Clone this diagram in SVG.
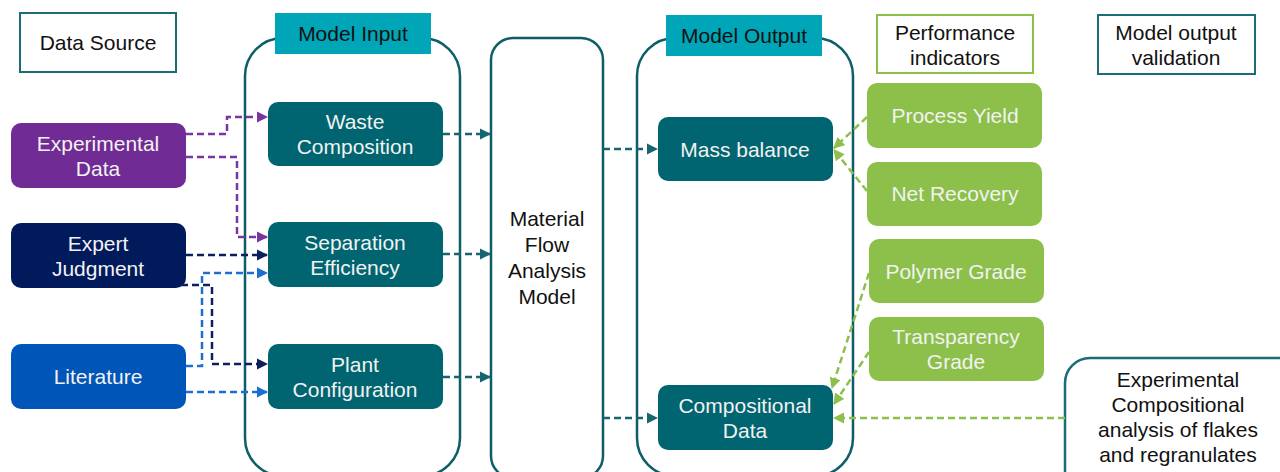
<svg xmlns="http://www.w3.org/2000/svg" width="1280" height="472" viewBox="0 0 1280 472">
<defs>
<style>
text{font-family:"Liberation Sans",Arial,sans-serif;font-size:21px;text-anchor:middle}
.w{fill:#f2f2f2}
.k{fill:#111}
.cont{fill:none;stroke:#0d5e68;stroke-width:2.5}
.node{fill:#006570}
.green{fill:#8cc04b}
.lbl{fill:#00a6b8}
.c{fill:none;stroke-width:2.5;stroke-dasharray:7 4}
.pu{stroke:#7a35a3}
.nv{stroke:#0c1f5e}
.bl{stroke:#1c6fd1}
.tl{stroke:#17656f}
.gr{stroke:#8cc04b}
</style>
<marker id="aPu" viewBox="0 0 10 10" refX="9" refY="5" markerWidth="4.5" markerHeight="4.5" orient="auto" markerUnits="strokeWidth"><path d="M0,0L10,5L0,10z" fill="#7a35a3"/></marker>
<marker id="aNv" viewBox="0 0 10 10" refX="9" refY="5" markerWidth="4.5" markerHeight="4.5" orient="auto" markerUnits="strokeWidth"><path d="M0,0L10,5L0,10z" fill="#0c1f5e"/></marker>
<marker id="aBl" viewBox="0 0 10 10" refX="9" refY="5" markerWidth="4.5" markerHeight="4.5" orient="auto" markerUnits="strokeWidth"><path d="M0,0L10,5L0,10z" fill="#1c6fd1"/></marker>
<marker id="aTl" viewBox="0 0 10 10" refX="9" refY="5" markerWidth="4.5" markerHeight="4.5" orient="auto" markerUnits="strokeWidth"><path d="M0,0L10,5L0,10z" fill="#17656f"/></marker>
<marker id="aGr" viewBox="0 0 10 10" refX="9" refY="5" markerWidth="4.5" markerHeight="4.5" orient="auto" markerUnits="strokeWidth"><path d="M0,0L10,5L0,10z" fill="#8cc04b"/></marker>
</defs>
<rect width="1280" height="472" fill="#fff"/>

<g id="containers">
<rect id="model-input-frame" class="cont" x="245" y="38" width="215" height="438" rx="38"/>
<rect id="model-output-frame" class="cont" x="637" y="38" width="216" height="438" rx="38"/>
</g>

<g id="data-source">
<rect x="20" y="13" width="156" height="59" fill="#fff" stroke="#1a6c76" stroke-width="2"/>
<text class="k" x="98" y="50">Data Source</text>
</g>

<g id="model-input">
<rect class="lbl" x="275" y="13" width="156" height="41"/>
<text class="k" x="353" y="41">Model Input</text>
</g>

<g id="model-output">
<rect class="lbl" x="666" y="15" width="156" height="41"/>
<text class="k" x="744" y="43">Model Output</text>
</g>

<g id="performance-indicators">
<rect x="877" y="15" width="156" height="58" fill="#fff" stroke="#8cc04b" stroke-width="2"/>
<text class="k" x="955" y="40">Performance</text>
<text class="k" x="955" y="65">indicators</text>
</g>

<g id="model-output-validation">
<rect x="1098" y="15" width="157" height="59" fill="#fff" stroke="#1a6c76" stroke-width="2"/>
<text class="k" x="1176" y="40">Model output</text>
<text class="k" x="1176" y="65">validation</text>
</g>

<g id="experimental-data">
<rect x="11" y="123" width="175" height="65" rx="10" fill="#702c94"/>
<text class="w" x="98" y="151">Experimental</text>
<text class="w" x="98" y="176">Data</text>
</g>

<g id="expert-judgment">
<rect x="11" y="223" width="175" height="65" rx="10" fill="#001a5c"/>
<text class="w" x="98" y="251">Expert</text>
<text class="w" x="98" y="276">Judgment</text>
</g>

<g id="literature">
<rect x="11" y="344" width="175" height="65" rx="10" fill="#0055b8"/>
<text class="w" x="98" y="384">Literature</text>
</g>

<g id="waste-composition">
<rect class="node" x="268" y="102" width="175" height="64" rx="10"/>
<text class="w" x="355" y="129">Waste</text>
<text class="w" x="355" y="154">Composition</text>
</g>

<g id="separation-efficiency">
<rect class="node" x="268" y="222" width="175" height="65" rx="10"/>
<text class="w" x="355" y="250">Separation</text>
<text class="w" x="355" y="275">Efficiency</text>
</g>

<g id="plant-configuration">
<rect class="node" x="268" y="344" width="175" height="65" rx="10"/>
<text class="w" x="355" y="372">Plant</text>
<text class="w" x="355" y="397">Configuration</text>
</g>

<g id="mfa-model">
<rect class="cont" x="491" y="38" width="112" height="440" rx="22" fill="#fff"/>
<text class="k" x="547" y="226">Material</text>
<text class="k" x="547" y="252">Flow</text>
<text class="k" x="547" y="278">Analysis</text>
<text class="k" x="547" y="304">Model</text>
</g>

<g id="mass-balance">
<rect class="node" x="658" y="117" width="175" height="64" rx="10"/>
<text class="w" x="745" y="157">Mass balance</text>
</g>

<g id="compositional-data">
<rect class="node" x="658" y="385" width="175" height="65" rx="10"/>
<text class="w" x="745" y="413">Compositional</text>
<text class="w" x="745" y="438">Data</text>
</g>

<g id="process-yield">
<rect class="green" x="867" y="83" width="175" height="65" rx="10"/>
<text class="w" x="955" y="123">Process Yield</text>
</g>

<g id="net-recovery">
<rect class="green" x="867" y="162" width="175" height="64" rx="10"/>
<text class="w" x="955" y="201">Net Recovery</text>
</g>

<g id="polymer-grade">
<rect class="green" x="869" y="239" width="175" height="64" rx="10"/>
<text class="w" x="956" y="279">Polymer Grade</text>
</g>

<g id="transparency-grade">
<rect class="green" x="869" y="317" width="175" height="64" rx="10"/>
<text class="w" x="956" y="344">Transparency</text>
<text class="w" x="956" y="369">Grade</text>
</g>

<g id="experimental-compositional">
<rect x="1065" y="358" width="240" height="150" rx="25" fill="#fff" stroke="#1a6c76" stroke-width="2.5"/>
<text class="k" x="1178" y="387">Experimental</text>
<text class="k" x="1178" y="412">Compositional</text>
<text class="k" x="1178" y="437">analysis of flakes</text>
<text class="k" x="1178" y="462">and regranulates</text>
</g>

<g id="connectors">
<path class="c pu" d="M186,134H227V117H267" marker-end="url(#aPu)"/>
<path class="c pu" d="M186,157H237V237H267" marker-end="url(#aPu)"/>
<path class="c nv" d="M186,255H267" marker-end="url(#aNv)"/>
<path class="c bl" d="M186,366H202V273H267" marker-end="url(#aBl)"/>
<path class="c nv" d="M181,285H212V364H267" marker-end="url(#aNv)"/>
<path class="c bl" d="M186,392H267" marker-end="url(#aBl)"/>
<path class="c tl" d="M443,134H490" marker-end="url(#aTl)"/>
<path class="c tl" d="M443,254H490" marker-end="url(#aTl)"/>
<path class="c tl" d="M443,377H490" marker-end="url(#aTl)"/>
<path class="c tl" d="M603,149H657" marker-end="url(#aTl)"/>
<path class="c tl" d="M603,418H657" marker-end="url(#aTl)"/>
<path class="c gr" d="M867,117L834,148" marker-end="url(#aGr)"/>
<path class="c gr" d="M867,191L834,150" marker-end="url(#aGr)"/>
<path class="c gr" d="M869,273L832,388" marker-end="url(#aGr)"/>
<path class="c gr" d="M869,352L834,404" marker-end="url(#aGr)"/>
<path class="c gr" d="M1065,418H834" marker-end="url(#aGr)"/>
</g>
</svg>
